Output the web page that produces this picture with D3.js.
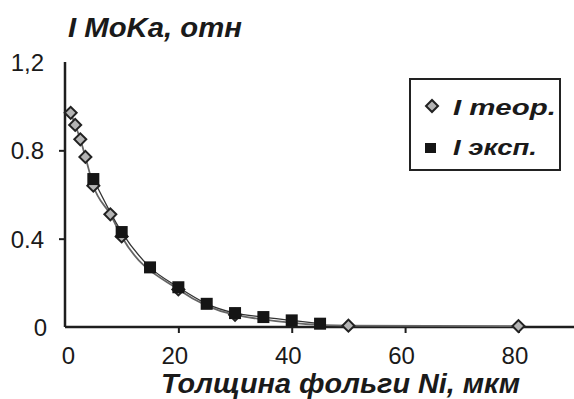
<!DOCTYPE html>
<html lang="en">
<head>
	<meta charset="utf-8">
	<title>I MoKa</title>
	<script src="https://d3js.org/d3.v7.min.js"></script>
	<style type="text/css">
		body { margin: 0; background: #fff; }
		.axis text { font: 24px "Liberation Sans", Arial, sans-serif; fill: #1a1a1a; }
		.lbl { font-family: "Liberation Sans", Arial, sans-serif; font-weight: bold; font-style: italic; fill: #1a1a1a; }
	</style>
</head>
<body>
	<script type="text/javascript">
	// data
	var theorX = [1, 1.8, 2.7, 3.6, 5, 8, 10, 20, 30, 50, 80]
	var theorY = [0.97, 0.915, 0.85, 0.77, 0.64, 0.51, 0.41, 0.17, 0.055, 0.006, 0.004]
	var expX = [5, 10, 15, 20, 25, 30, 35, 40, 45]
	var expY = [0.67, 0.43, 0.27, 0.18, 0.105, 0.063, 0.045, 0.03, 0.015]
	var xTicks = [0, 20, 40, 60, 80]
	var yTicks = [0, 0.4, 0.8, 1.2]
	var yTickLabels = ["0", "0.4", "0.8", "1,2"]

	var w = 574, h = 399
	var dark = "#1e1e1e"

	var xScale = d3.scaleLinear().domain([0, 89.8]).range([65, 574])
	var yScale = d3.scaleLinear().domain([0, 1.2]).range([327, 62])

	var svg = d3.select("body").append("svg")
		.attr("width", w)
		.attr("height", h)

	// y axis
	var yAxis = d3.axisLeft(yScale)
		.tickValues(yTicks)
		.tickSize(6)
		.tickPadding(15)
		.tickFormat((d, i) => yTickLabels[i])
	var gy = svg.append("g")
		.attr("class", "axis")
		.attr("transform", "translate(" + xScale(0) + ",0)")
		.call(yAxis)
	gy.select(".domain").attr("stroke", dark).attr("stroke-width", 2.5).attr("d", "M0," + yScale(1.2) + "V" + yScale(0))
	gy.selectAll(".tick line").attr("stroke", dark).attr("stroke-width", 2)
		.filter(d => d == 0 || d == 1.2).remove()
	gy.selectAll(".tick text").attr("dy", "0.36em")
		.attr("dx", d => d == 0 ? "3px" : 0)

	// x axis
	var xAxis = d3.axisBottom(xScale)
		.tickValues(xTicks)
		.tickSize(6)
		.tickPadding(14)
	var gx = svg.append("g")
		.attr("class", "axis")
		.attr("transform", "translate(0," + yScale(0) + ")")
		.call(xAxis)
	gx.select(".domain").attr("stroke", dark).attr("stroke-width", 2.5).attr("d", "M" + xScale(0) + ",0H574")
	gx.selectAll(".tick line").attr("stroke", dark).attr("stroke-width", 2)
		.filter(d => d == 0).remove()
	gx.selectAll(".tick text").attr("dx", d => d == 0 ? "3px" : "-4px")

	// lines
	var theor = theorX.map((x, i) => ({x: x, y: theorY[i]}))
	var exp = expX.map((x, i) => ({x: x, y: expY[i]}))
	var line = d3.line().x(d => xScale(d.x)).y(d => yScale(d.y)).curve(d3.curveMonotoneX)

	svg.append("path")
		.attr("d", line(theor))
		.attr("fill", "none")
		.attr("stroke", "#666")
		.attr("stroke-width", 1.8)
	svg.append("path")
		.attr("d", line(exp))
		.attr("fill", "none")
		.attr("stroke", "#333")
		.attr("stroke-width", 1.3)

	// markers
	var diamond = d3.symbol().type(d3.symbolSquare).size(72)
	svg.append("g").selectAll("path")
		.data(theor)
		.enter()
		.append("path")
		.attr("d", diamond)
		.attr("transform", d => "translate(" + xScale(d.x) + "," + yScale(d.y) + ") rotate(45)")
		.attr("fill", "#b4b4b4")
		.attr("stroke", "#222")
		.attr("stroke-width", 2)

	svg.append("g").selectAll("rect")
		.data(exp)
		.enter()
		.append("rect")
		.attr("x", d => xScale(d.x) - 6)
		.attr("y", d => yScale(d.y) - 6)
		.attr("width", 12)
		.attr("height", 12)
		.attr("fill", "#151515")

	// legend
	var lg = svg.append("g")
	lg.append("rect")
		.attr("x", 410).attr("y", 79)
		.attr("width", 150).attr("height", 91)
		.attr("fill", "#fff")
		.attr("stroke", "#222")
		.attr("stroke-width", 2)
	lg.append("path")
		.attr("d", diamond)
		.attr("transform", "translate(432,106) rotate(45)")
		.attr("fill", "#b4b4b4")
		.attr("stroke", "#222")
		.attr("stroke-width", 2)
	lg.append("rect")
		.attr("x", 425).attr("y", 143)
		.attr("width", 11).attr("height", 10)
		.attr("fill", "#151515")
	lg.append("text").attr("class", "lbl")
		.attr("x", 453).attr("y", 115)
		.attr("textLength", 103).attr("lengthAdjust", "spacingAndGlyphs")
		.style("font-size", "22px")
		.text("I теор.")
	lg.append("text").attr("class", "lbl")
		.attr("x", 453).attr("y", 155)
		.attr("textLength", 84).attr("lengthAdjust", "spacingAndGlyphs")
		.style("font-size", "22px")
		.text("I эксп.")

	// titles
	svg.append("text").attr("class", "lbl")
		.attr("x", 68).attr("y", 37)
		.attr("textLength", 174).attr("lengthAdjust", "spacingAndGlyphs")
		.style("font-size", "27px")
		.text("I MoKa, отн")
	svg.append("text").attr("class", "lbl")
		.attr("x", 161).attr("y", 393)
		.attr("textLength", 359).attr("lengthAdjust", "spacingAndGlyphs")
		.style("font-size", "27px")
		.text("Толщина фольги Ni, мкм")
	</script>
</body>
</html>
